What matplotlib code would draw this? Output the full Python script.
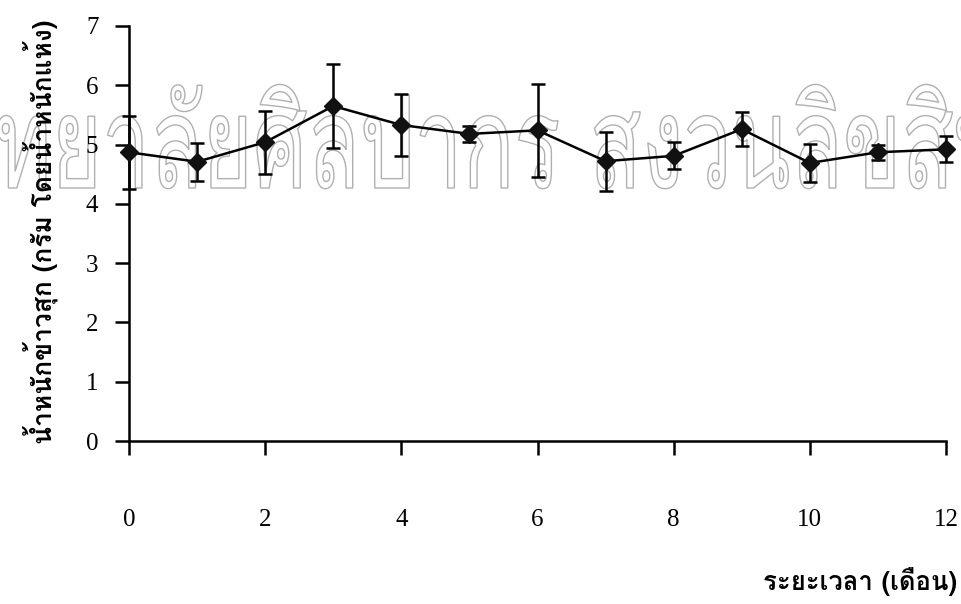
import matplotlib
matplotlib.use('Agg')
import matplotlib.pyplot as plt
from matplotlib.textpath import TextPath
from matplotlib.patches import PathPatch
from matplotlib.font_manager import FontProperties
from matplotlib.transforms import Affine2D, IdentityTransform

# ข้อมูลน้ำหนักข้าวสุก
months = [0, 1, 2, 3, 4, 5, 6, 7, 8, 9, 10, 11, 12]
weight = [4.87, 4.71, 5.04, 5.65, 5.33, 5.18, 5.24, 4.72, 4.81, 5.26, 4.69, 4.87, 4.92]
err = [0.62, 0.32, 0.53, 0.71, 0.53, 0.14, 0.78, 0.50, 0.23, 0.29, 0.32, 0.13, 0.22]
xticks = [0, 2, 4, 6, 8, 10, 12]
yticks = [0, 1, 2, 3, 4, 5, 6, 7]
xlabel = 'ระยะเวลา (เดือน)'
ylabel = 'น้ำหนักข้าวสุก (กรัม โดยน้ำหนักแห้ง)'
watermark = 'มหาวิทยาลัยศิลปากร สงวนลิขสิทธิ์'

thai = ['Loma', 'DejaVu Sans']
serif = ['Liberation Serif', 'DejaVu Serif']

W, H = 961, 604
fig = plt.figure(figsize=(W / 100, H / 100), dpi=100)
ax = fig.add_axes([129 / W, (H - 441) / H, 817 / W, 415 / H])
ax.patch.set_visible(False)

ax.errorbar(months, weight, yerr=err, color='black', lw=1.8, marker='D',
            markersize=9.5, markerfacecolor='#111111', markeredgecolor='#111111',
            ecolor='black', elinewidth=1.8, capsize=5, capthick=1.8,
            clip_on=False, zorder=3)

ax.set_xlim(0, 12)
ax.set_ylim(0, 7)
ax.set_xticks(xticks)
ax.set_yticks(yticks)
for s in ['top', 'right']:
    ax.spines[s].set_visible(False)
for s in ['left', 'bottom']:
    ax.spines[s].set_linewidth(1.8)
ax.tick_params(axis='both', direction='out', length=10, width=1.8, labelsize=18)
ax.tick_params(axis='x', pad=39)
ax.tick_params(axis='y', pad=12)
for t in ax.get_xticklabels() + ax.get_yticklabels():
    t.set_family(serif)

fig.text(957 / W, (H - 582) / H, xlabel, ha='right', va='center',
         family=thai, fontweight='bold', fontsize=18.5)
fig.text(41 / W, (H - 232) / H, ylabel, ha='center', va='center', rotation=90,
         family=thai, fontweight='bold', fontsize=19)

# ลายน้ำ (เส้นขอบสีเทา)
fp = FontProperties(family=thai)
full = TextPath((0, 0), watermark, size=100, prop=fp)
pre = TextPath((0, 0), 'มหาว', size=100, prop=fp).get_extents()
part = TextPath((0, 0), 'มหาวิทยาลัยศิลปากร', size=100, prop=fp).get_extents()
cons = TextPath((0, 0), 'น', size=100, prop=fp).get_extents()
x0 = pre.x1 + 4
sx = (558 + 8) / (part.x1 - x0)
sy = 73 / cons.height
tr = Affine2D().translate(-x0, 0).scale(sx, sy).translate(-8, H - 188)
wm = PathPatch(tr.transform_path(full), facecolor='none', edgecolor='#b0b0b0',
               lw=1.0, transform=IdentityTransform(), zorder=-1)
fig.add_artist(wm)

fig.savefig('out.png', dpi=100)
